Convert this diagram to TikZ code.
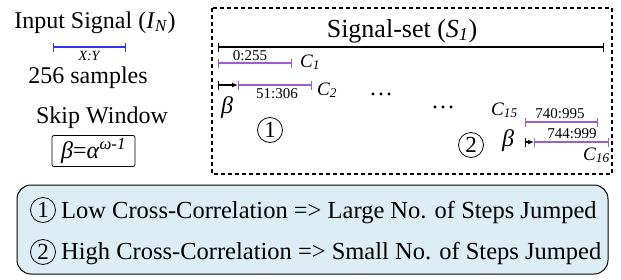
\documentclass[tikz,border=0pt]{standalone}
\usepackage{fontspec}
\setmainfont{Liberation Serif}
\usetikzlibrary{arrows.meta}
\definecolor{barblue}{RGB}{50,50,240}
\definecolor{barpurple}{RGB}{155,95,205}
\definecolor{legendfill}{RGB}{220,238,243}
\newcommand{\ital}[1]{\textit{#1}}
\begin{document}
\begin{tikzpicture}[x=1pt,y=-1pt,
  big/.style={font=\fontsize{24}{26}\selectfont, inner sep=0pt},
  leg/.style={font=\fontsize{24.5}{28}\selectfont, inner sep=0pt, anchor=base west},
  clabel/.style={font=\fontsize{19}{21}\selectfont\itshape, inner sep=0pt, anchor=base west},
  rng/.style={font=\fontsize{15}{16}\selectfont, inner sep=0pt, anchor=base},
  pbar/.style={draw=barpurple, line width=1.3pt, {Bar[width=9pt]}-{Bar[width=9pt]}},
  jump/.style={draw=black, line width=1.2pt, {Bar[width=9pt]}-{Latex[length=6pt,width=5pt]}},
  numcirc/.style={circle, draw, line width=0.8pt, minimum size=25pt, inner sep=0pt, font=\fontsize{23}{24}\selectfont},
]
\useasboundingbox (0,0) rectangle (621,279);

% left side
\node[big, anchor=base] (insig) at (95,28) {Input Signal (\ital{I}\textsubscript{\ital{N}})};
\coordinate (xa) at (53,47);
\coordinate (xb) at (126,47);
\draw[draw=barblue, line width=1.3pt, {Bar[width=9pt]}-{Bar[width=9pt]}] (xa) -- (xb);
\node[font=\fontsize{14}{15}\selectfont\itshape, inner sep=0pt, anchor=base] (xy) at (89,60) {X:Y};
\node[big, anchor=base] (samples) at (88,83) {256 samples};
\node[big, anchor=base] (skip) at (102,123) {Skip Window};
\node[draw, line width=0.8pt, rounded corners=2pt, minimum width=83pt, minimum height=31pt, inner sep=0pt, font=\fontsize{24}{26}\selectfont] (betabox) at (93.5,151) {\ital{β}=\ital{α}\textsuperscript{\ital{ω-1}}};

% signal set box
\draw[line width=1.2pt, dash pattern=on 4pt off 3pt] (212,8) rectangle (612,174);
\node[font=\fontsize{26}{28}\selectfont, inner sep=0pt, anchor=base] (sset) at (402,37) {Signal-set (\ital{S}\textsubscript{\ital{1}})};
\coordinate (sa) at (218,47);
\coordinate (sb) at (604,47);
\draw[line width=1.2pt, {Bar[width=9pt]}-{Bar[width=9pt]}] (sa) -- (sb);

% C1
\coordinate (c1a) at (218,63);
\coordinate (c1b) at (292,63);
\draw[pbar] (c1a) -- (c1b);
\node[rng] (r1) at (250,60) {0:255};
\node[clabel] (c1) at (300,67) {C\textsubscript{1}};

% C2
\coordinate (j1a) at (218,85);
\coordinate (j1b) at (238,85);
\coordinate (c2b) at (312,85);
\draw[jump] (j1a) -- (j1b);
\draw[pbar] (j1b) -- (c2b);
\node[rng] (r2) at (277,98) {51:306};
\node[clabel] (c2) at (317,95) {C\textsubscript{2}};
\node[font=\fontsize{24}{26}\selectfont\itshape, inner sep=0pt, anchor=base] (beta1) at (227,113) {β};
\node[numcirc] (n1) at (270,130) {1};
\node[big, anchor=base] (dots1) at (381,95) {…};
\node[big, anchor=base] (dots2) at (443,108) {…};

% C15
\coordinate (c15a) at (525,122);
\coordinate (c15b) at (598,122);
\draw[pbar] (c15a) -- (c15b);
\node[rng] (r15) at (560,118) {740:995};
\node[clabel] (c15) at (491,115) {C\textsubscript{15}};

% C16
\coordinate (j2a) at (525,142);
\coordinate (j2b) at (534,142);
\coordinate (c16b) at (609,142);
\draw[jump] (j2a) -- (j2b);
\draw[pbar] (j2b) -- (c16b);
\node[rng] (r16) at (572,138) {744:999};
\node[clabel] (c16) at (583,160) {C\textsubscript{16}};
\node[font=\fontsize{24}{26}\selectfont\itshape, inner sep=0pt, anchor=base] (beta2) at (508,146) {β};
\node[numcirc] (n2) at (471,145) {2};

% legend
\draw[line width=1pt, rounded corners=14pt, fill=legendfill] (17,185) rectangle (608,274);
\node[numcirc] (l1c) at (43,210) {1};
\node[leg] (l1) at (61,218) {Low Cross-Correlation => Large No. of Steps Jumped};
\node[numcirc] (l2c) at (43,252) {2};
\node[leg] (l2) at (61,259) {High Cross-Correlation => Small No. of Steps Jumped};
\end{tikzpicture}
\end{document}
